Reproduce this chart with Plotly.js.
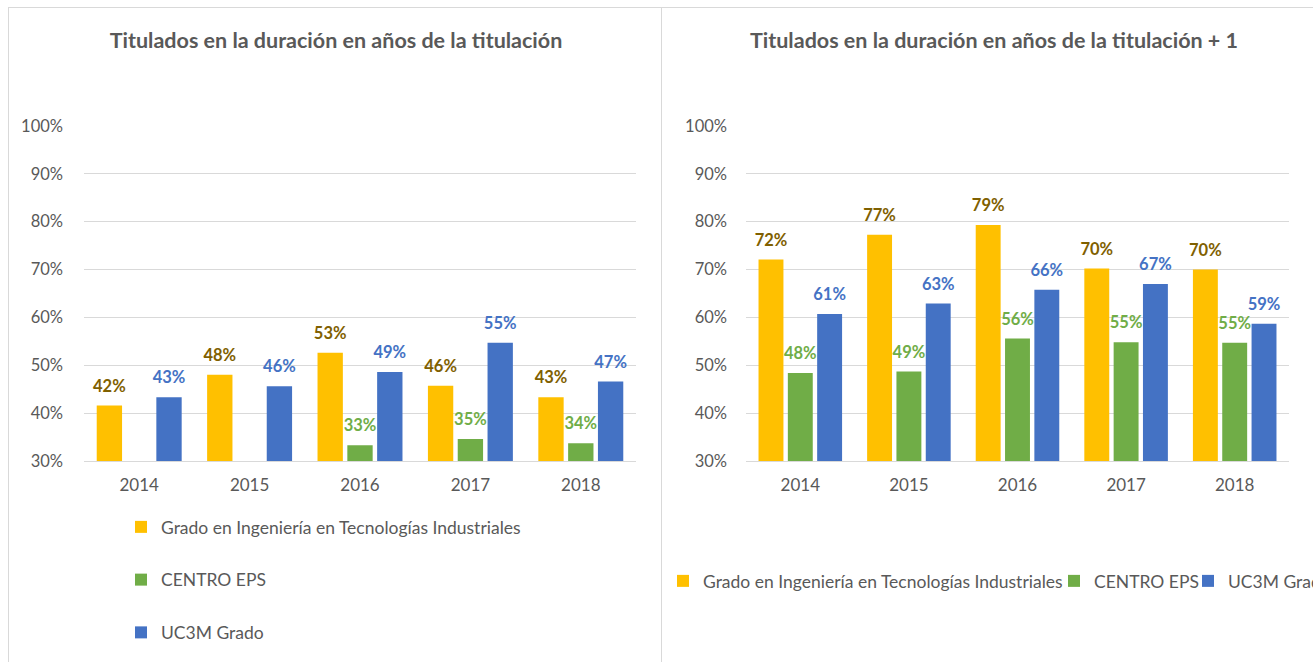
<!DOCTYPE html>
<html>
<head>
<meta charset="utf-8">
<script src="https://cdn.plot.ly/plotly-3.0.1.min.js"></script>
<style>
  html, body { margin: 0; padding: 0; background: #fff; width: 1313px; height: 662px; overflow: hidden; }
  .panel { position: absolute; top: 7px; border-top: 1px solid #D9D9D9; border-left: 1px solid #D9D9D9; overflow: hidden; }
  #left { left: 8px; width: 652px; height: 654px; }
  #right { left: 661px; width: 900px; height: 654px; }
</style>
</head>
<body>
<div id="left" class="panel"></div>
<div id="right" class="panel"></div>
<script>
const years = ['2014', '2015', '2016', '2017', '2018'];
const seriesNames = ['Grado en Ingeniería en Tecnologías Industriales', 'CENTRO EPS', 'UC3M Grado'];
const barColors = ['#FFC000', '#70AD47', '#4472C4'];
const labelColors = ['#7F6000', '#70AD47', '#4472C4'];

// Left chart: graduates within the nominal duration
const leftTitle = 'Titulados en la duración en años de la titulación';
const leftGrado = [41.6, 48.0, 52.6, 45.7, 43.3];
const leftEPS = [null, null, 33.3, 34.6, 33.7];
const leftUC3M = [43.3, 45.6, 48.6, 54.7, 46.6];

// Right chart: graduates within duration + 1
const rightTitle = 'Titulados en la duración en años de la titulación + 1';
const rightGrado = [72.1, 77.3, 79.3, 70.2, 70.0];
const rightEPS = [48.4, 48.7, 55.6, 54.8, 54.7];
const rightUC3M = [60.7, 62.9, 65.8, 67.0, 58.7];

const FONT = 'Lato, "Open Sans", sans-serif';
const TXT = '#595959';

function makeTraces(seriesValues, legendIds) {
  const traces = [];
  seriesValues.forEach((vals, i) => {
    const t = {
      type: 'bar', x: years, y: vals, name: seriesNames[i],
      marker: { color: barColors[i] }, legendgroup: 'g' + i,
      hoverinfo: 'skip'
    };
    if (legendIds) t.legend = legendIds[i];
    traces.push(t);
  });
  seriesValues.forEach((vals, i) => {
    traces.push({
      type: 'scatter', mode: 'text+markers', x: years, y: vals,
      texttemplate: '%{y:.0f}%', textposition: 'top center',
      textfont: { family: FONT, size: 16.5, color: labelColors[i], weight: 'bold' },
      marker: { size: 14, opacity: 0, color: barColors[i] },
      showlegend: false, hoverinfo: 'skip', cliponaxis: false
    });
  });
  return traces;
}

function makeLayout(opts) {
  return {
    width: opts.width, height: 654,
    margin: { l: opts.l, r: opts.width - opts.l - opts.pw, t: 118, b: 201, pad: 0, autoexpand: false },
    paper_bgcolor: '#fff', plot_bgcolor: '#fff',
    font: { family: FONT, color: TXT, size: 16.5 },
    title: {
      text: '<b>' + opts.title + '</b>', font: { family: FONT, size: 21.5, color: TXT },
      xref: 'container', x: opts.titleX, xanchor: 'center',
      yref: 'container', y: 1 - 32 / 654, yanchor: 'middle'
    },
    barmode: 'group', bargap: 0.19, bargroupgap: 0.15,
    scattermode: 'group', scattergap: 0.19,
    xaxis: {
      type: 'category', showgrid: false, zeroline: false,
      showline: true, linecolor: '#D9D9D9', linewidth: 1,
      ticks: '', tickfont: { family: FONT, size: 17, color: TXT },
      ticklabelstandoff: 9, fixedrange: true
    },
    yaxis: {
      range: [30, 100], dtick: 10, tick0: 0, ticksuffix: '%',
      showgrid: true, gridcolor: '#D9D9D9', gridwidth: 1,
      zeroline: false, showline: false, ticks: '',
      tickfont: { family: FONT, size: 16.5, color: TXT },
      ticklabelstandoff: opts.standoff, fixedrange: true
    },
    showlegend: true
  };
}

const legendFont = { family: FONT, size: 17.5, color: TXT };

const leftLayout = makeLayout({ width: 652, l: 75, pw: 552, title: leftTitle, titleX: 327 / 652, standoff: 20 });
leftLayout.legend = {
  orientation: 'v', xref: 'paper', yref: 'paper',
  x: (121 - 84) / 552, xanchor: 'left', y: -(509 - 461) / 335, yanchor: 'top',
  tracegroupgap: 27, itemwidth: 30, font: legendFont, bgcolor: 'rgba(0,0,0,0)'
};

const rightLayout = makeLayout({ width: 900, l: 84, pw: 543, title: rightTitle, titleX: 332 / 900, standoff: 18 });
// one single-entry legend per series so the row never wraps
const rightLegendLefts = [1, 392, 526];
['legend', 'legend2', 'legend3'].forEach((id, i) => {
  rightLayout[id] = {
    orientation: 'h', xref: 'container', yref: 'paper',
    x: rightLegendLefts[i] / 900, xanchor: 'left',
    y: -(581 - 461) / 335, yanchor: 'middle',
    itemwidth: 30, font: legendFont, bgcolor: 'rgba(0,0,0,0)'
  };
});

const cfg = { displayModeBar: false, staticPlot: true };
Plotly.newPlot('left', makeTraces([leftGrado, leftEPS, leftUC3M]), leftLayout, cfg);
Plotly.newPlot('right', makeTraces([rightGrado, rightEPS, rightUC3M], ['legend', 'legend2', 'legend3']), rightLayout, cfg);
</script>
</body>
</html>
